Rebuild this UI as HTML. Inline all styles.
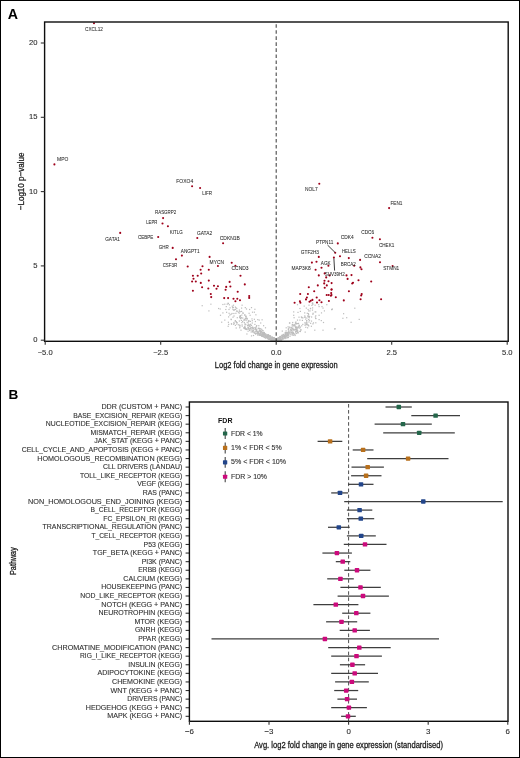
<!DOCTYPE html>
<html><head><meta charset="utf-8"><title>Figure</title>
<style>html,body{margin:0;padding:0;background:#fff;width:520px;height:758px;overflow:hidden}
svg text{font-family:"Liberation Sans", sans-serif}
.ti{stroke:#1a1a1a;stroke-width:.28px}
.pl{stroke:#303030;stroke-width:.1px}
.tk{stroke:#303030;stroke-width:.12px}
.vl{stroke:#1e1e1e;stroke-width:.05px}
.lg{stroke:#333;stroke-width:.12px}</style></head>
<body>
<svg width="520" height="758" viewBox="0 0 520 758" style="display:block;will-change:transform">
<rect x="0" y="0" width="520" height="758" fill="#fff"/>
<g fill="#bdbdbd"><rect x="201.6" y="305.1" width="1.2" height="1.2"/><rect x="210.3" y="303.6" width="1.2" height="1.2"/><rect x="208.3" y="310.3" width="1.2" height="1.2"/><rect x="222.3" y="303.9" width="1.2" height="1.2"/><rect x="224.2" y="303.6" width="1.2" height="1.2"/><rect x="226.6" y="303.6" width="1.2" height="1.2"/><rect x="225.7" y="306.0" width="1.2" height="1.2"/><rect x="218.0" y="307.9" width="1.2" height="1.2"/><rect x="219.6" y="308.4" width="1.2" height="1.2"/><rect x="225.2" y="308.9" width="1.2" height="1.2"/><rect x="232.9" y="304.6" width="1.2" height="1.2"/><rect x="222.3" y="312.3" width="1.2" height="1.2"/><rect x="219.9" y="314.7" width="1.2" height="1.2"/><rect x="228.5" y="312.7" width="1.2" height="1.2"/><rect x="231.4" y="312.9" width="1.2" height="1.2"/><rect x="233.3" y="312.9" width="1.2" height="1.2"/><rect x="235.3" y="312.7" width="1.2" height="1.2"/><rect x="236.2" y="307.9" width="1.2" height="1.2"/><rect x="241.5" y="304.6" width="1.2" height="1.2"/><rect x="241.0" y="307.5" width="1.2" height="1.2"/><rect x="236.7" y="310.6" width="1.2" height="1.2"/><rect x="238.6" y="312.6" width="1.2" height="1.2"/><rect x="241.0" y="310.8" width="1.2" height="1.2"/><rect x="242.5" y="312.7" width="1.2" height="1.2"/><rect x="232.4" y="316.6" width="1.2" height="1.2"/><rect x="236.7" y="317.1" width="1.2" height="1.2"/><rect x="239.6" y="315.6" width="1.2" height="1.2"/><rect x="241.0" y="317.1" width="1.2" height="1.2"/><rect x="224.2" y="319.5" width="1.2" height="1.2"/><rect x="230.7" y="319.0" width="1.2" height="1.2"/><rect x="221.1" y="321.6" width="1.2" height="1.2"/><rect x="234.8" y="320.0" width="1.2" height="1.2"/><rect x="236.7" y="322.2" width="1.2" height="1.2"/><rect x="233.3" y="321.9" width="1.2" height="1.2"/><rect x="238.8" y="320.4" width="1.2" height="1.2"/><rect x="242.0" y="320.9" width="1.2" height="1.2"/><rect x="228.1" y="323.8" width="1.2" height="1.2"/><rect x="227.6" y="325.7" width="1.2" height="1.2"/><rect x="234.8" y="324.8" width="1.2" height="1.2"/><rect x="239.1" y="324.5" width="1.2" height="1.2"/><rect x="241.5" y="324.3" width="1.2" height="1.2"/><rect x="235.6" y="327.4" width="1.2" height="1.2"/><rect x="239.1" y="327.2" width="1.2" height="1.2"/><rect x="240.4" y="329.6" width="1.2" height="1.2"/><rect x="243.4" y="327.2" width="1.2" height="1.2"/><rect x="244.7" y="307.0" width="1.2" height="1.2"/><rect x="245.9" y="308.4" width="1.2" height="1.2"/><rect x="249.0" y="308.9" width="1.2" height="1.2"/><rect x="250.9" y="307.0" width="1.2" height="1.2"/><rect x="254.3" y="308.7" width="1.2" height="1.2"/><rect x="242.3" y="312.3" width="1.2" height="1.2"/><rect x="248.5" y="312.7" width="1.2" height="1.2"/><rect x="251.9" y="311.6" width="1.2" height="1.2"/><rect x="253.8" y="311.6" width="1.2" height="1.2"/><rect x="255.3" y="314.2" width="1.2" height="1.2"/><rect x="249.5" y="314.7" width="1.2" height="1.2"/><rect x="239.9" y="315.6" width="1.2" height="1.2"/><rect x="245.2" y="316.1" width="1.2" height="1.2"/><rect x="251.4" y="318.3" width="1.2" height="1.2"/><rect x="253.8" y="318.7" width="1.2" height="1.2"/><rect x="257.2" y="319.0" width="1.2" height="1.2"/><rect x="258.6" y="319.5" width="1.2" height="1.2"/><rect x="261.5" y="319.2" width="1.2" height="1.2"/><rect x="243.2" y="319.5" width="1.2" height="1.2"/><rect x="246.1" y="319.5" width="1.2" height="1.2"/><rect x="243.7" y="321.9" width="1.2" height="1.2"/><rect x="247.6" y="322.4" width="1.2" height="1.2"/><rect x="254.8" y="320.9" width="1.2" height="1.2"/><rect x="260.1" y="322.4" width="1.2" height="1.2"/><rect x="245.2" y="323.8" width="1.2" height="1.2"/><rect x="248.1" y="324.3" width="1.2" height="1.2"/><rect x="250.9" y="324.8" width="1.2" height="1.2"/><rect x="258.2" y="325.1" width="1.2" height="1.2"/><rect x="263.0" y="325.1" width="1.2" height="1.2"/><rect x="264.9" y="327.2" width="1.2" height="1.2"/><rect x="244.2" y="326.7" width="1.2" height="1.2"/><rect x="247.6" y="327.2" width="1.2" height="1.2"/><rect x="250.9" y="327.2" width="1.2" height="1.2"/><rect x="254.3" y="327.0" width="1.2" height="1.2"/><rect x="257.7" y="327.7" width="1.2" height="1.2"/><rect x="260.1" y="328.1" width="1.2" height="1.2"/><rect x="249.0" y="329.9" width="1.2" height="1.2"/><rect x="246.3" y="333.4" width="1.2" height="1.2"/><rect x="250.9" y="335.3" width="1.2" height="1.2"/><rect x="252.9" y="334.9" width="1.2" height="1.2"/><rect x="281.7" y="330.5" width="1.2" height="1.2"/><rect x="285.6" y="327.2" width="1.2" height="1.2"/><rect x="287.5" y="326.2" width="1.2" height="1.2"/><rect x="288.9" y="322.4" width="1.2" height="1.2"/><rect x="296.9" y="304.1" width="1.2" height="1.2"/><rect x="303.6" y="305.5" width="1.2" height="1.2"/><rect x="308.4" y="304.6" width="1.2" height="1.2"/><rect x="311.8" y="302.7" width="1.2" height="1.2"/><rect x="318.1" y="304.1" width="1.2" height="1.2"/><rect x="318.5" y="306.0" width="1.2" height="1.2"/><rect x="321.4" y="306.0" width="1.2" height="1.2"/><rect x="322.4" y="307.5" width="1.2" height="1.2"/><rect x="326.2" y="304.1" width="1.2" height="1.2"/><rect x="331.3" y="308.9" width="1.2" height="1.2"/><rect x="305.7" y="307.5" width="1.2" height="1.2"/><rect x="307.5" y="308.9" width="1.2" height="1.2"/><rect x="309.4" y="310.3" width="1.2" height="1.2"/><rect x="299.3" y="307.9" width="1.2" height="1.2"/><rect x="299.8" y="310.8" width="1.2" height="1.2"/><rect x="297.4" y="311.8" width="1.2" height="1.2"/><rect x="293.1" y="311.3" width="1.2" height="1.2"/><rect x="304.1" y="312.3" width="1.2" height="1.2"/><rect x="308.0" y="313.7" width="1.2" height="1.2"/><rect x="312.3" y="313.7" width="1.2" height="1.2"/><rect x="315.2" y="311.3" width="1.2" height="1.2"/><rect x="323.8" y="310.3" width="1.2" height="1.2"/><rect x="320.9" y="312.3" width="1.2" height="1.2"/><rect x="293.1" y="314.7" width="1.2" height="1.2"/><rect x="293.5" y="317.1" width="1.2" height="1.2"/><rect x="298.4" y="316.6" width="1.2" height="1.2"/><rect x="301.2" y="317.1" width="1.2" height="1.2"/><rect x="304.6" y="316.6" width="1.2" height="1.2"/><rect x="305.1" y="318.5" width="1.2" height="1.2"/><rect x="308.4" y="316.6" width="1.2" height="1.2"/><rect x="315.2" y="315.2" width="1.2" height="1.2"/><rect x="315.2" y="318.0" width="1.2" height="1.2"/><rect x="318.5" y="314.7" width="1.2" height="1.2"/><rect x="318.5" y="319.0" width="1.2" height="1.2"/><rect x="320.7" y="320.0" width="1.2" height="1.2"/><rect x="322.9" y="321.9" width="1.2" height="1.2"/><rect x="296.9" y="319.5" width="1.2" height="1.2"/><rect x="299.3" y="319.5" width="1.2" height="1.2"/><rect x="306.0" y="320.4" width="1.2" height="1.2"/><rect x="308.4" y="321.4" width="1.2" height="1.2"/><rect x="315.2" y="322.2" width="1.2" height="1.2"/><rect x="312.3" y="323.3" width="1.2" height="1.2"/><rect x="289.2" y="322.4" width="1.2" height="1.2"/><rect x="292.1" y="321.9" width="1.2" height="1.2"/><rect x="295.0" y="322.4" width="1.2" height="1.2"/><rect x="297.9" y="322.8" width="1.2" height="1.2"/><rect x="302.2" y="323.8" width="1.2" height="1.2"/><rect x="305.1" y="324.3" width="1.2" height="1.2"/><rect x="307.5" y="324.3" width="1.2" height="1.2"/><rect x="310.8" y="325.7" width="1.2" height="1.2"/><rect x="294.0" y="325.2" width="1.2" height="1.2"/><rect x="298.8" y="325.2" width="1.2" height="1.2"/><rect x="307.0" y="327.2" width="1.2" height="1.2"/><rect x="314.2" y="329.6" width="1.2" height="1.2"/><rect x="322.4" y="329.6" width="1.2" height="1.2"/><rect x="304.6" y="331.5" width="1.2" height="1.2"/><rect x="334.4" y="328.1" width="1.2" height="1.2"/><rect x="296.9" y="329.6" width="1.2" height="1.2"/><rect x="300.3" y="329.1" width="1.2" height="1.2"/><rect x="294.5" y="334.9" width="1.2" height="1.2"/><rect x="331.1" y="309.0" width="1.2" height="1.2"/><rect x="331.7" y="308.4" width="1.2" height="1.2"/><rect x="354.2" y="307.6" width="1.2" height="1.2"/><rect x="343.0" y="313.1" width="1.2" height="1.2"/><rect x="342.3" y="317.7" width="1.2" height="1.2"/><rect x="346.1" y="317.1" width="1.2" height="1.2"/><rect x="350.5" y="321.7" width="1.2" height="1.2"/><rect x="358.6" y="318.8" width="1.2" height="1.2"/><rect x="334.2" y="328.4" width="1.2" height="1.2"/><rect x="271.5" y="338.7" width="1.2" height="1.2"/><rect x="267.4" y="334.4" width="1.2" height="1.2"/><rect x="260.7" y="331.0" width="1.2" height="1.2"/><rect x="272.2" y="338.5" width="1.2" height="1.2"/><rect x="259.0" y="330.2" width="1.2" height="1.2"/><rect x="271.6" y="336.6" width="1.2" height="1.2"/><rect x="248.9" y="325.5" width="1.2" height="1.2"/><rect x="261.9" y="332.4" width="1.2" height="1.2"/><rect x="248.5" y="328.3" width="1.2" height="1.2"/><rect x="247.7" y="326.7" width="1.2" height="1.2"/><rect x="270.7" y="339.2" width="1.2" height="1.2"/><rect x="274.9" y="338.9" width="1.2" height="1.2"/><rect x="270.7" y="337.0" width="1.2" height="1.2"/><rect x="269.3" y="338.5" width="1.2" height="1.2"/><rect x="266.7" y="336.6" width="1.2" height="1.2"/><rect x="256.4" y="330.7" width="1.2" height="1.2"/><rect x="270.1" y="335.7" width="1.2" height="1.2"/><rect x="273.9" y="338.2" width="1.2" height="1.2"/><rect x="268.4" y="336.0" width="1.2" height="1.2"/><rect x="260.3" y="333.6" width="1.2" height="1.2"/><rect x="262.7" y="335.6" width="1.2" height="1.2"/><rect x="271.7" y="339.0" width="1.2" height="1.2"/><rect x="274.8" y="339.7" width="1.2" height="1.2"/><rect x="254.7" y="332.8" width="1.2" height="1.2"/><rect x="273.9" y="339.9" width="1.2" height="1.2"/><rect x="262.5" y="332.2" width="1.2" height="1.2"/><rect x="252.2" y="327.3" width="1.2" height="1.2"/><rect x="262.4" y="334.0" width="1.2" height="1.2"/><rect x="252.6" y="331.3" width="1.2" height="1.2"/><rect x="269.8" y="337.7" width="1.2" height="1.2"/><rect x="265.8" y="336.5" width="1.2" height="1.2"/><rect x="265.8" y="336.0" width="1.2" height="1.2"/><rect x="260.1" y="334.8" width="1.2" height="1.2"/><rect x="267.1" y="338.1" width="1.2" height="1.2"/><rect x="252.3" y="326.8" width="1.2" height="1.2"/><rect x="271.8" y="339.1" width="1.2" height="1.2"/><rect x="245.2" y="328.6" width="1.2" height="1.2"/><rect x="272.2" y="339.1" width="1.2" height="1.2"/><rect x="260.2" y="330.6" width="1.2" height="1.2"/><rect x="266.2" y="334.0" width="1.2" height="1.2"/><rect x="273.3" y="337.3" width="1.2" height="1.2"/><rect x="274.6" y="338.7" width="1.2" height="1.2"/><rect x="267.2" y="335.8" width="1.2" height="1.2"/><rect x="271.1" y="337.8" width="1.2" height="1.2"/><rect x="270.9" y="338.1" width="1.2" height="1.2"/><rect x="253.6" y="332.3" width="1.2" height="1.2"/><rect x="255.8" y="329.8" width="1.2" height="1.2"/><rect x="262.6" y="336.1" width="1.2" height="1.2"/><rect x="267.9" y="338.5" width="1.2" height="1.2"/><rect x="269.8" y="336.3" width="1.2" height="1.2"/><rect x="267.5" y="335.2" width="1.2" height="1.2"/><rect x="254.4" y="329.0" width="1.2" height="1.2"/><rect x="273.6" y="337.3" width="1.2" height="1.2"/><rect x="262.2" y="334.3" width="1.2" height="1.2"/><rect x="268.1" y="338.6" width="1.2" height="1.2"/><rect x="268.6" y="337.3" width="1.2" height="1.2"/><rect x="257.7" y="332.9" width="1.2" height="1.2"/><rect x="243.3" y="327.5" width="1.2" height="1.2"/><rect x="264.2" y="336.6" width="1.2" height="1.2"/><rect x="270.9" y="337.5" width="1.2" height="1.2"/><rect x="260.3" y="331.1" width="1.2" height="1.2"/><rect x="271.8" y="336.6" width="1.2" height="1.2"/><rect x="271.3" y="336.9" width="1.2" height="1.2"/><rect x="268.0" y="334.6" width="1.2" height="1.2"/><rect x="263.2" y="332.0" width="1.2" height="1.2"/><rect x="271.3" y="337.5" width="1.2" height="1.2"/><rect x="269.6" y="335.3" width="1.2" height="1.2"/><rect x="260.1" y="331.2" width="1.2" height="1.2"/><rect x="259.9" y="331.6" width="1.2" height="1.2"/><rect x="266.9" y="334.4" width="1.2" height="1.2"/><rect x="263.1" y="336.1" width="1.2" height="1.2"/><rect x="257.7" y="331.9" width="1.2" height="1.2"/><rect x="274.8" y="338.2" width="1.2" height="1.2"/><rect x="263.9" y="333.6" width="1.2" height="1.2"/><rect x="266.8" y="337.5" width="1.2" height="1.2"/><rect x="273.8" y="339.9" width="1.2" height="1.2"/><rect x="272.7" y="338.8" width="1.2" height="1.2"/><rect x="263.5" y="332.3" width="1.2" height="1.2"/><rect x="259.7" y="333.0" width="1.2" height="1.2"/><rect x="244.0" y="327.2" width="1.2" height="1.2"/><rect x="271.3" y="337.1" width="1.2" height="1.2"/><rect x="269.1" y="338.2" width="1.2" height="1.2"/><rect x="268.4" y="336.9" width="1.2" height="1.2"/><rect x="273.0" y="337.8" width="1.2" height="1.2"/><rect x="261.5" y="335.3" width="1.2" height="1.2"/><rect x="244.4" y="328.2" width="1.2" height="1.2"/><rect x="272.6" y="339.9" width="1.2" height="1.2"/><rect x="274.9" y="339.7" width="1.2" height="1.2"/><rect x="264.1" y="334.2" width="1.2" height="1.2"/><rect x="271.9" y="337.5" width="1.2" height="1.2"/><rect x="274.9" y="338.9" width="1.2" height="1.2"/><rect x="261.4" y="333.4" width="1.2" height="1.2"/><rect x="257.3" y="334.3" width="1.2" height="1.2"/><rect x="268.2" y="335.5" width="1.2" height="1.2"/><rect x="267.1" y="334.8" width="1.2" height="1.2"/><rect x="269.3" y="338.8" width="1.2" height="1.2"/><rect x="254.1" y="332.4" width="1.2" height="1.2"/><rect x="252.5" y="331.5" width="1.2" height="1.2"/><rect x="272.6" y="337.1" width="1.2" height="1.2"/><rect x="256.9" y="333.2" width="1.2" height="1.2"/><rect x="245.9" y="328.4" width="1.2" height="1.2"/><rect x="265.7" y="336.9" width="1.2" height="1.2"/><rect x="274.2" y="338.8" width="1.2" height="1.2"/><rect x="262.2" y="333.4" width="1.2" height="1.2"/><rect x="244.0" y="327.4" width="1.2" height="1.2"/><rect x="253.1" y="327.9" width="1.2" height="1.2"/><rect x="269.2" y="338.8" width="1.2" height="1.2"/><rect x="269.0" y="338.3" width="1.2" height="1.2"/><rect x="257.4" y="334.5" width="1.2" height="1.2"/><rect x="251.8" y="330.3" width="1.2" height="1.2"/><rect x="263.7" y="332.9" width="1.2" height="1.2"/><rect x="259.3" y="330.1" width="1.2" height="1.2"/><rect x="252.8" y="329.9" width="1.2" height="1.2"/><rect x="271.4" y="339.8" width="1.2" height="1.2"/><rect x="245.9" y="328.9" width="1.2" height="1.2"/><rect x="262.5" y="332.7" width="1.2" height="1.2"/><rect x="275.4" y="339.0" width="1.2" height="1.2"/><rect x="262.3" y="334.4" width="1.2" height="1.2"/><rect x="274.6" y="338.3" width="1.2" height="1.2"/><rect x="259.0" y="334.7" width="1.2" height="1.2"/><rect x="264.9" y="335.6" width="1.2" height="1.2"/><rect x="261.5" y="335.7" width="1.2" height="1.2"/><rect x="244.2" y="325.9" width="1.2" height="1.2"/><rect x="258.5" y="332.5" width="1.2" height="1.2"/><rect x="272.5" y="338.4" width="1.2" height="1.2"/><rect x="275.1" y="338.7" width="1.2" height="1.2"/><rect x="246.9" y="324.9" width="1.2" height="1.2"/><rect x="274.9" y="339.6" width="1.2" height="1.2"/><rect x="272.4" y="337.9" width="1.2" height="1.2"/><rect x="255.4" y="331.0" width="1.2" height="1.2"/><rect x="249.3" y="325.6" width="1.2" height="1.2"/><rect x="266.0" y="336.0" width="1.2" height="1.2"/><rect x="275.5" y="339.9" width="1.2" height="1.2"/><rect x="262.7" y="334.2" width="1.2" height="1.2"/><rect x="250.6" y="331.4" width="1.2" height="1.2"/><rect x="265.4" y="335.1" width="1.2" height="1.2"/><rect x="261.2" y="333.6" width="1.2" height="1.2"/><rect x="263.3" y="335.4" width="1.2" height="1.2"/><rect x="256.7" y="331.4" width="1.2" height="1.2"/><rect x="269.8" y="339.2" width="1.2" height="1.2"/><rect x="265.3" y="337.4" width="1.2" height="1.2"/><rect x="244.5" y="324.3" width="1.2" height="1.2"/><rect x="261.6" y="335.4" width="1.2" height="1.2"/><rect x="270.3" y="337.4" width="1.2" height="1.2"/><rect x="269.4" y="335.4" width="1.2" height="1.2"/><rect x="275.2" y="339.9" width="1.2" height="1.2"/><rect x="269.4" y="338.4" width="1.2" height="1.2"/><rect x="268.2" y="337.6" width="1.2" height="1.2"/><rect x="270.0" y="338.1" width="1.2" height="1.2"/><rect x="255.0" y="333.5" width="1.2" height="1.2"/><rect x="249.7" y="326.5" width="1.2" height="1.2"/><rect x="260.2" y="333.0" width="1.2" height="1.2"/><rect x="270.9" y="339.8" width="1.2" height="1.2"/><rect x="270.9" y="337.6" width="1.2" height="1.2"/><rect x="267.4" y="336.4" width="1.2" height="1.2"/><rect x="270.0" y="336.7" width="1.2" height="1.2"/><rect x="266.7" y="337.0" width="1.2" height="1.2"/><rect x="255.4" y="330.6" width="1.2" height="1.2"/><rect x="273.1" y="337.1" width="1.2" height="1.2"/><rect x="264.6" y="335.1" width="1.2" height="1.2"/><rect x="256.1" y="328.7" width="1.2" height="1.2"/><rect x="247.5" y="330.6" width="1.2" height="1.2"/><rect x="273.0" y="337.3" width="1.2" height="1.2"/><rect x="275.2" y="339.9" width="1.2" height="1.2"/><rect x="271.1" y="337.1" width="1.2" height="1.2"/><rect x="264.1" y="336.8" width="1.2" height="1.2"/><rect x="263.4" y="336.1" width="1.2" height="1.2"/><rect x="275.1" y="339.9" width="1.2" height="1.2"/><rect x="266.5" y="336.2" width="1.2" height="1.2"/><rect x="273.5" y="337.4" width="1.2" height="1.2"/><rect x="269.0" y="337.8" width="1.2" height="1.2"/><rect x="270.1" y="339.3" width="1.2" height="1.2"/><rect x="272.8" y="339.2" width="1.2" height="1.2"/><rect x="273.5" y="339.9" width="1.2" height="1.2"/><rect x="269.3" y="335.3" width="1.2" height="1.2"/><rect x="264.1" y="334.1" width="1.2" height="1.2"/><rect x="262.2" y="334.3" width="1.2" height="1.2"/><rect x="264.3" y="333.1" width="1.2" height="1.2"/><rect x="270.0" y="337.6" width="1.2" height="1.2"/><rect x="275.0" y="338.6" width="1.2" height="1.2"/><rect x="267.9" y="334.6" width="1.2" height="1.2"/><rect x="271.5" y="337.4" width="1.2" height="1.2"/><rect x="262.4" y="335.4" width="1.2" height="1.2"/><rect x="270.9" y="336.6" width="1.2" height="1.2"/><rect x="257.3" y="330.9" width="1.2" height="1.2"/><rect x="263.5" y="332.2" width="1.2" height="1.2"/><rect x="274.2" y="339.9" width="1.2" height="1.2"/><rect x="265.8" y="335.5" width="1.2" height="1.2"/><rect x="272.3" y="339.9" width="1.2" height="1.2"/><rect x="252.4" y="329.1" width="1.2" height="1.2"/><rect x="257.3" y="331.7" width="1.2" height="1.2"/><rect x="267.5" y="336.4" width="1.2" height="1.2"/><rect x="261.8" y="334.7" width="1.2" height="1.2"/><rect x="261.0" y="335.2" width="1.2" height="1.2"/><rect x="274.0" y="339.9" width="1.2" height="1.2"/><rect x="264.9" y="334.5" width="1.2" height="1.2"/><rect x="263.3" y="332.3" width="1.2" height="1.2"/><rect x="271.4" y="339.1" width="1.2" height="1.2"/><rect x="271.1" y="337.0" width="1.2" height="1.2"/><rect x="272.1" y="339.7" width="1.2" height="1.2"/><rect x="269.9" y="338.9" width="1.2" height="1.2"/><rect x="269.4" y="336.1" width="1.2" height="1.2"/><rect x="264.2" y="333.9" width="1.2" height="1.2"/><rect x="266.5" y="335.7" width="1.2" height="1.2"/><rect x="273.2" y="338.1" width="1.2" height="1.2"/><rect x="265.4" y="335.6" width="1.2" height="1.2"/><rect x="274.2" y="338.7" width="1.2" height="1.2"/><rect x="275.1" y="339.4" width="1.2" height="1.2"/><rect x="275.0" y="339.7" width="1.2" height="1.2"/><rect x="264.9" y="335.2" width="1.2" height="1.2"/><rect x="275.4" y="338.2" width="1.2" height="1.2"/><rect x="275.0" y="339.4" width="1.2" height="1.2"/><rect x="268.7" y="335.0" width="1.2" height="1.2"/><rect x="262.1" y="332.6" width="1.2" height="1.2"/><rect x="273.7" y="339.4" width="1.2" height="1.2"/><rect x="249.4" y="329.2" width="1.2" height="1.2"/><rect x="270.7" y="338.7" width="1.2" height="1.2"/><rect x="264.1" y="334.0" width="1.2" height="1.2"/><rect x="264.7" y="337.4" width="1.2" height="1.2"/><rect x="260.4" y="333.9" width="1.2" height="1.2"/><rect x="254.9" y="328.0" width="1.2" height="1.2"/><rect x="258.4" y="332.9" width="1.2" height="1.2"/><rect x="246.6" y="328.6" width="1.2" height="1.2"/><rect x="272.3" y="338.6" width="1.2" height="1.2"/><rect x="267.5" y="336.4" width="1.2" height="1.2"/><rect x="260.9" y="335.1" width="1.2" height="1.2"/><rect x="250.7" y="329.3" width="1.2" height="1.2"/><rect x="256.6" y="332.6" width="1.2" height="1.2"/><rect x="260.5" y="331.8" width="1.2" height="1.2"/><rect x="267.2" y="335.6" width="1.2" height="1.2"/><rect x="273.9" y="337.8" width="1.2" height="1.2"/><rect x="265.1" y="335.9" width="1.2" height="1.2"/><rect x="258.0" y="332.8" width="1.2" height="1.2"/><rect x="267.8" y="334.3" width="1.2" height="1.2"/><rect x="258.8" y="334.0" width="1.2" height="1.2"/><rect x="275.4" y="339.9" width="1.2" height="1.2"/><rect x="256.7" y="332.4" width="1.2" height="1.2"/><rect x="251.7" y="327.7" width="1.2" height="1.2"/><rect x="265.1" y="333.3" width="1.2" height="1.2"/><rect x="273.1" y="337.8" width="1.2" height="1.2"/><rect x="296.5" y="331.2" width="1.2" height="1.2"/><rect x="290.6" y="331.4" width="1.2" height="1.2"/><rect x="277.9" y="338.7" width="1.2" height="1.2"/><rect x="284.6" y="336.0" width="1.2" height="1.2"/><rect x="295.9" y="330.7" width="1.2" height="1.2"/><rect x="282.1" y="335.4" width="1.2" height="1.2"/><rect x="279.0" y="339.2" width="1.2" height="1.2"/><rect x="281.2" y="334.8" width="1.2" height="1.2"/><rect x="291.5" y="328.5" width="1.2" height="1.2"/><rect x="277.9" y="339.5" width="1.2" height="1.2"/><rect x="294.9" y="331.4" width="1.2" height="1.2"/><rect x="279.6" y="337.8" width="1.2" height="1.2"/><rect x="290.8" y="331.9" width="1.2" height="1.2"/><rect x="295.8" y="326.9" width="1.2" height="1.2"/><rect x="294.3" y="334.1" width="1.2" height="1.2"/><rect x="277.8" y="338.7" width="1.2" height="1.2"/><rect x="276.6" y="339.9" width="1.2" height="1.2"/><rect x="289.5" y="331.2" width="1.2" height="1.2"/><rect x="278.4" y="337.4" width="1.2" height="1.2"/><rect x="284.0" y="336.1" width="1.2" height="1.2"/><rect x="278.6" y="337.0" width="1.2" height="1.2"/><rect x="280.4" y="335.8" width="1.2" height="1.2"/><rect x="282.2" y="338.5" width="1.2" height="1.2"/><rect x="289.6" y="334.1" width="1.2" height="1.2"/><rect x="278.8" y="338.3" width="1.2" height="1.2"/><rect x="276.7" y="339.4" width="1.2" height="1.2"/><rect x="275.8" y="339.8" width="1.2" height="1.2"/><rect x="277.9" y="338.2" width="1.2" height="1.2"/><rect x="282.4" y="335.6" width="1.2" height="1.2"/><rect x="276.0" y="339.9" width="1.2" height="1.2"/><rect x="276.2" y="339.9" width="1.2" height="1.2"/><rect x="297.2" y="330.6" width="1.2" height="1.2"/><rect x="295.9" y="332.8" width="1.2" height="1.2"/><rect x="278.7" y="338.0" width="1.2" height="1.2"/><rect x="287.8" y="336.9" width="1.2" height="1.2"/><rect x="286.0" y="334.2" width="1.2" height="1.2"/><rect x="282.1" y="335.5" width="1.2" height="1.2"/><rect x="281.3" y="338.6" width="1.2" height="1.2"/><rect x="277.4" y="338.3" width="1.2" height="1.2"/><rect x="284.7" y="334.0" width="1.2" height="1.2"/><rect x="279.5" y="338.0" width="1.2" height="1.2"/><rect x="280.2" y="339.6" width="1.2" height="1.2"/><rect x="287.3" y="336.3" width="1.2" height="1.2"/><rect x="282.6" y="338.4" width="1.2" height="1.2"/><rect x="292.6" y="334.5" width="1.2" height="1.2"/><rect x="295.3" y="326.0" width="1.2" height="1.2"/><rect x="281.9" y="337.8" width="1.2" height="1.2"/><rect x="296.3" y="330.5" width="1.2" height="1.2"/><rect x="282.2" y="335.5" width="1.2" height="1.2"/><rect x="284.6" y="333.3" width="1.2" height="1.2"/><rect x="287.3" y="332.6" width="1.2" height="1.2"/><rect x="277.7" y="339.8" width="1.2" height="1.2"/><rect x="285.6" y="335.7" width="1.2" height="1.2"/><rect x="277.1" y="338.5" width="1.2" height="1.2"/><rect x="287.8" y="331.5" width="1.2" height="1.2"/><rect x="280.2" y="336.1" width="1.2" height="1.2"/><rect x="283.0" y="336.1" width="1.2" height="1.2"/><rect x="280.9" y="339.5" width="1.2" height="1.2"/><rect x="282.4" y="334.9" width="1.2" height="1.2"/><rect x="277.8" y="337.3" width="1.2" height="1.2"/><rect x="278.7" y="337.3" width="1.2" height="1.2"/><rect x="280.4" y="336.5" width="1.2" height="1.2"/><rect x="300.2" y="329.6" width="1.2" height="1.2"/><rect x="287.1" y="333.5" width="1.2" height="1.2"/><rect x="289.2" y="332.1" width="1.2" height="1.2"/><rect x="283.8" y="334.9" width="1.2" height="1.2"/><rect x="285.3" y="337.6" width="1.2" height="1.2"/><rect x="279.6" y="336.3" width="1.2" height="1.2"/><rect x="293.9" y="333.4" width="1.2" height="1.2"/><rect x="276.0" y="338.9" width="1.2" height="1.2"/><rect x="276.9" y="339.0" width="1.2" height="1.2"/><rect x="285.3" y="334.6" width="1.2" height="1.2"/><rect x="299.8" y="330.9" width="1.2" height="1.2"/><rect x="282.8" y="333.8" width="1.2" height="1.2"/><rect x="295.6" y="332.9" width="1.2" height="1.2"/><rect x="279.7" y="337.7" width="1.2" height="1.2"/><rect x="275.8" y="339.5" width="1.2" height="1.2"/><rect x="275.7" y="339.9" width="1.2" height="1.2"/><rect x="287.3" y="336.9" width="1.2" height="1.2"/><rect x="298.3" y="325.9" width="1.2" height="1.2"/><rect x="281.4" y="337.1" width="1.2" height="1.2"/><rect x="280.4" y="338.3" width="1.2" height="1.2"/><rect x="295.0" y="331.1" width="1.2" height="1.2"/><rect x="283.1" y="337.5" width="1.2" height="1.2"/><rect x="291.5" y="328.4" width="1.2" height="1.2"/><rect x="280.0" y="339.0" width="1.2" height="1.2"/><rect x="278.8" y="338.9" width="1.2" height="1.2"/><rect x="277.9" y="337.9" width="1.2" height="1.2"/><rect x="282.0" y="337.3" width="1.2" height="1.2"/><rect x="277.6" y="337.4" width="1.2" height="1.2"/><rect x="281.6" y="337.0" width="1.2" height="1.2"/><rect x="286.8" y="332.5" width="1.2" height="1.2"/><rect x="282.0" y="337.2" width="1.2" height="1.2"/><rect x="286.6" y="334.0" width="1.2" height="1.2"/><rect x="276.3" y="339.9" width="1.2" height="1.2"/><rect x="292.2" y="331.2" width="1.2" height="1.2"/><rect x="296.9" y="326.6" width="1.2" height="1.2"/><rect x="276.2" y="339.9" width="1.2" height="1.2"/><rect x="276.6" y="339.5" width="1.2" height="1.2"/><rect x="278.2" y="339.3" width="1.2" height="1.2"/><rect x="284.4" y="336.3" width="1.2" height="1.2"/><rect x="280.4" y="339.4" width="1.2" height="1.2"/><rect x="276.1" y="339.2" width="1.2" height="1.2"/><rect x="279.0" y="337.9" width="1.2" height="1.2"/><rect x="279.2" y="339.4" width="1.2" height="1.2"/><rect x="283.5" y="337.2" width="1.2" height="1.2"/><rect x="284.4" y="338.0" width="1.2" height="1.2"/><rect x="275.9" y="339.2" width="1.2" height="1.2"/><rect x="279.6" y="336.7" width="1.2" height="1.2"/><rect x="284.1" y="337.0" width="1.2" height="1.2"/><rect x="284.5" y="335.3" width="1.2" height="1.2"/><rect x="279.1" y="337.8" width="1.2" height="1.2"/><rect x="284.1" y="336.5" width="1.2" height="1.2"/><rect x="282.5" y="335.9" width="1.2" height="1.2"/><rect x="277.9" y="337.7" width="1.2" height="1.2"/><rect x="282.7" y="334.0" width="1.2" height="1.2"/><rect x="276.8" y="337.9" width="1.2" height="1.2"/><rect x="297.4" y="332.1" width="1.2" height="1.2"/><rect x="292.9" y="332.8" width="1.2" height="1.2"/><rect x="276.1" y="339.2" width="1.2" height="1.2"/><rect x="287.6" y="335.3" width="1.2" height="1.2"/><rect x="294.4" y="329.2" width="1.2" height="1.2"/><rect x="279.4" y="337.5" width="1.2" height="1.2"/><rect x="279.5" y="335.9" width="1.2" height="1.2"/><rect x="282.5" y="335.3" width="1.2" height="1.2"/><rect x="294.9" y="326.9" width="1.2" height="1.2"/><rect x="284.2" y="334.7" width="1.2" height="1.2"/><rect x="277.6" y="339.9" width="1.2" height="1.2"/><rect x="281.6" y="334.7" width="1.2" height="1.2"/><rect x="288.0" y="333.4" width="1.2" height="1.2"/><rect x="295.9" y="326.8" width="1.2" height="1.2"/><rect x="296.5" y="327.9" width="1.2" height="1.2"/><rect x="278.2" y="338.3" width="1.2" height="1.2"/><rect x="277.5" y="339.9" width="1.2" height="1.2"/><rect x="276.0" y="338.3" width="1.2" height="1.2"/><rect x="279.3" y="336.2" width="1.2" height="1.2"/><rect x="284.4" y="336.8" width="1.2" height="1.2"/><rect x="280.4" y="339.3" width="1.2" height="1.2"/><rect x="281.1" y="339.3" width="1.2" height="1.2"/><rect x="284.4" y="336.1" width="1.2" height="1.2"/><rect x="277.2" y="338.5" width="1.2" height="1.2"/><rect x="296.2" y="327.4" width="1.2" height="1.2"/><rect x="297.4" y="332.3" width="1.2" height="1.2"/><rect x="276.1" y="339.9" width="1.2" height="1.2"/><rect x="278.3" y="337.6" width="1.2" height="1.2"/><rect x="276.6" y="339.4" width="1.2" height="1.2"/><rect x="284.3" y="334.9" width="1.2" height="1.2"/><rect x="275.7" y="339.9" width="1.2" height="1.2"/><rect x="289.4" y="335.7" width="1.2" height="1.2"/><rect x="285.2" y="336.4" width="1.2" height="1.2"/><rect x="297.0" y="331.7" width="1.2" height="1.2"/><rect x="278.1" y="338.0" width="1.2" height="1.2"/><rect x="293.2" y="329.4" width="1.2" height="1.2"/><rect x="290.3" y="329.4" width="1.2" height="1.2"/><rect x="292.9" y="328.7" width="1.2" height="1.2"/><rect x="275.8" y="338.5" width="1.2" height="1.2"/><rect x="285.4" y="332.2" width="1.2" height="1.2"/><rect x="286.5" y="337.2" width="1.2" height="1.2"/><rect x="279.3" y="339.7" width="1.2" height="1.2"/><rect x="285.8" y="332.3" width="1.2" height="1.2"/><rect x="276.4" y="338.2" width="1.2" height="1.2"/><rect x="296.0" y="328.9" width="1.2" height="1.2"/><rect x="275.8" y="339.0" width="1.2" height="1.2"/><rect x="291.3" y="333.1" width="1.2" height="1.2"/><rect x="284.6" y="336.7" width="1.2" height="1.2"/><rect x="286.6" y="332.0" width="1.2" height="1.2"/><rect x="291.4" y="334.3" width="1.2" height="1.2"/><rect x="280.2" y="337.1" width="1.2" height="1.2"/><rect x="291.8" y="333.3" width="1.2" height="1.2"/><rect x="278.7" y="337.4" width="1.2" height="1.2"/><rect x="284.9" y="333.2" width="1.2" height="1.2"/><rect x="288.4" y="332.2" width="1.2" height="1.2"/><rect x="287.0" y="333.5" width="1.2" height="1.2"/><rect x="291.1" y="330.0" width="1.2" height="1.2"/><rect x="276.3" y="339.9" width="1.2" height="1.2"/><rect x="298.4" y="324.5" width="1.2" height="1.2"/><rect x="299.3" y="330.8" width="1.2" height="1.2"/><rect x="279.4" y="339.8" width="1.2" height="1.2"/><rect x="286.1" y="332.3" width="1.2" height="1.2"/><rect x="278.3" y="337.4" width="1.2" height="1.2"/><rect x="292.6" y="334.5" width="1.2" height="1.2"/><rect x="278.5" y="338.0" width="1.2" height="1.2"/><rect x="285.1" y="333.7" width="1.2" height="1.2"/><rect x="286.2" y="336.2" width="1.2" height="1.2"/><rect x="281.4" y="337.4" width="1.2" height="1.2"/><rect x="277.7" y="339.4" width="1.2" height="1.2"/><rect x="278.1" y="337.3" width="1.2" height="1.2"/><rect x="287.8" y="331.8" width="1.2" height="1.2"/><rect x="276.1" y="339.9" width="1.2" height="1.2"/><rect x="293.2" y="328.6" width="1.2" height="1.2"/><rect x="263.2" y="331.7" width="1.2" height="1.2"/><rect x="237.8" y="311.6" width="1.2" height="1.2"/><rect x="251.7" y="322.4" width="1.2" height="1.2"/><rect x="233.4" y="315.4" width="1.2" height="1.2"/><rect x="261.2" y="328.8" width="1.2" height="1.2"/><rect x="248.6" y="324.4" width="1.2" height="1.2"/><rect x="239.3" y="311.1" width="1.2" height="1.2"/><rect x="257.4" y="330.9" width="1.2" height="1.2"/><rect x="248.0" y="320.6" width="1.2" height="1.2"/><rect x="251.9" y="330.9" width="1.2" height="1.2"/><rect x="251.7" y="326.5" width="1.2" height="1.2"/><rect x="250.0" y="323.7" width="1.2" height="1.2"/><rect x="230.8" y="323.3" width="1.2" height="1.2"/><rect x="249.8" y="320.8" width="1.2" height="1.2"/><rect x="235.9" y="310.5" width="1.2" height="1.2"/><rect x="263.4" y="335.2" width="1.2" height="1.2"/><rect x="247.5" y="327.3" width="1.2" height="1.2"/><rect x="248.2" y="328.5" width="1.2" height="1.2"/><rect x="246.1" y="317.6" width="1.2" height="1.2"/><rect x="263.0" y="333.0" width="1.2" height="1.2"/><rect x="239.3" y="325.0" width="1.2" height="1.2"/><rect x="260.2" y="331.8" width="1.2" height="1.2"/><rect x="249.5" y="324.4" width="1.2" height="1.2"/><rect x="258.1" y="327.8" width="1.2" height="1.2"/><rect x="243.8" y="327.2" width="1.2" height="1.2"/><rect x="259.5" y="330.4" width="1.2" height="1.2"/><rect x="233.0" y="323.6" width="1.2" height="1.2"/><rect x="256.1" y="325.0" width="1.2" height="1.2"/><rect x="227.8" y="321.7" width="1.2" height="1.2"/><rect x="245.3" y="315.4" width="1.2" height="1.2"/><rect x="228.4" y="308.9" width="1.2" height="1.2"/><rect x="229.2" y="314.5" width="1.2" height="1.2"/><rect x="232.3" y="306.8" width="1.2" height="1.2"/><rect x="233.7" y="309.2" width="1.2" height="1.2"/><rect x="248.2" y="328.0" width="1.2" height="1.2"/><rect x="232.1" y="307.2" width="1.2" height="1.2"/><rect x="255.3" y="327.0" width="1.2" height="1.2"/><rect x="243.9" y="319.2" width="1.2" height="1.2"/><rect x="258.9" y="328.2" width="1.2" height="1.2"/><rect x="236.1" y="323.5" width="1.2" height="1.2"/><rect x="262.0" y="332.5" width="1.2" height="1.2"/><rect x="234.8" y="306.5" width="1.2" height="1.2"/><rect x="231.7" y="305.6" width="1.2" height="1.2"/><rect x="240.8" y="319.8" width="1.2" height="1.2"/><rect x="239.8" y="315.1" width="1.2" height="1.2"/><rect x="247.6" y="324.3" width="1.2" height="1.2"/><rect x="247.4" y="325.2" width="1.2" height="1.2"/><rect x="246.6" y="321.7" width="1.2" height="1.2"/><rect x="262.7" y="333.2" width="1.2" height="1.2"/><rect x="245.0" y="317.8" width="1.2" height="1.2"/><rect x="234.6" y="320.6" width="1.2" height="1.2"/><rect x="246.2" y="317.9" width="1.2" height="1.2"/><rect x="245.6" y="316.4" width="1.2" height="1.2"/><rect x="258.7" y="329.5" width="1.2" height="1.2"/><rect x="260.1" y="330.5" width="1.2" height="1.2"/><rect x="244.2" y="314.3" width="1.2" height="1.2"/><rect x="239.4" y="311.0" width="1.2" height="1.2"/><rect x="235.7" y="321.1" width="1.2" height="1.2"/><rect x="244.2" y="314.5" width="1.2" height="1.2"/><rect x="244.5" y="319.5" width="1.2" height="1.2"/><rect x="227.5" y="302.6" width="1.2" height="1.2"/><rect x="231.0" y="323.4" width="1.2" height="1.2"/><rect x="235.8" y="321.8" width="1.2" height="1.2"/><rect x="256.2" y="332.9" width="1.2" height="1.2"/><rect x="244.9" y="328.1" width="1.2" height="1.2"/><rect x="228.8" y="304.2" width="1.2" height="1.2"/><rect x="233.6" y="323.1" width="1.2" height="1.2"/><rect x="261.1" y="330.5" width="1.2" height="1.2"/><rect x="234.9" y="308.8" width="1.2" height="1.2"/><rect x="229.5" y="307.2" width="1.2" height="1.2"/><rect x="232.6" y="306.8" width="1.2" height="1.2"/><rect x="244.5" y="327.4" width="1.2" height="1.2"/><rect x="255.7" y="325.9" width="1.2" height="1.2"/><rect x="244.4" y="318.5" width="1.2" height="1.2"/><rect x="262.2" y="330.2" width="1.2" height="1.2"/><rect x="257.5" y="333.0" width="1.2" height="1.2"/><rect x="237.8" y="324.2" width="1.2" height="1.2"/><rect x="257.2" y="331.5" width="1.2" height="1.2"/><rect x="259.2" y="330.6" width="1.2" height="1.2"/><rect x="239.4" y="315.8" width="1.2" height="1.2"/><rect x="230.4" y="313.8" width="1.2" height="1.2"/><rect x="241.6" y="325.6" width="1.2" height="1.2"/><rect x="259.6" y="334.3" width="1.2" height="1.2"/><rect x="239.7" y="316.5" width="1.2" height="1.2"/><rect x="233.3" y="309.7" width="1.2" height="1.2"/><rect x="226.0" y="311.7" width="1.2" height="1.2"/><rect x="249.9" y="327.8" width="1.2" height="1.2"/><rect x="246.8" y="318.3" width="1.2" height="1.2"/><rect x="235.3" y="307.1" width="1.2" height="1.2"/><rect x="232.4" y="308.9" width="1.2" height="1.2"/><rect x="239.3" y="326.3" width="1.2" height="1.2"/><rect x="241.3" y="322.0" width="1.2" height="1.2"/><rect x="251.7" y="320.1" width="1.2" height="1.2"/><rect x="262.3" y="330.0" width="1.2" height="1.2"/><rect x="240.2" y="317.5" width="1.2" height="1.2"/><rect x="244.1" y="326.9" width="1.2" height="1.2"/><rect x="258.6" y="327.8" width="1.2" height="1.2"/><rect x="238.8" y="309.5" width="1.2" height="1.2"/><rect x="263.5" y="332.1" width="1.2" height="1.2"/><rect x="259.6" y="329.5" width="1.2" height="1.2"/><rect x="255.1" y="328.6" width="1.2" height="1.2"/><rect x="241.2" y="314.5" width="1.2" height="1.2"/><rect x="239.9" y="318.0" width="1.2" height="1.2"/><rect x="258.5" y="333.4" width="1.2" height="1.2"/><rect x="254.3" y="323.8" width="1.2" height="1.2"/><rect x="260.0" y="331.8" width="1.2" height="1.2"/><rect x="230.5" y="318.6" width="1.2" height="1.2"/><rect x="248.3" y="320.6" width="1.2" height="1.2"/><rect x="263.2" y="333.6" width="1.2" height="1.2"/><rect x="242.2" y="317.5" width="1.2" height="1.2"/><rect x="239.1" y="317.0" width="1.2" height="1.2"/><rect x="228.0" y="316.3" width="1.2" height="1.2"/><rect x="254.2" y="331.3" width="1.2" height="1.2"/><rect x="261.9" y="332.2" width="1.2" height="1.2"/><rect x="248.2" y="320.2" width="1.2" height="1.2"/><rect x="261.4" y="333.5" width="1.2" height="1.2"/><rect x="263.1" y="333.0" width="1.2" height="1.2"/><rect x="227.8" y="303.0" width="1.2" height="1.2"/><rect x="256.0" y="329.4" width="1.2" height="1.2"/><rect x="244.3" y="323.3" width="1.2" height="1.2"/><rect x="309.8" y="308.1" width="1.2" height="1.2"/><rect x="294.2" y="324.2" width="1.2" height="1.2"/><rect x="286.1" y="335.0" width="1.2" height="1.2"/><rect x="308.9" y="319.7" width="1.2" height="1.2"/><rect x="284.8" y="335.4" width="1.2" height="1.2"/><rect x="307.7" y="315.7" width="1.2" height="1.2"/><rect x="307.6" y="315.5" width="1.2" height="1.2"/><rect x="291.6" y="324.6" width="1.2" height="1.2"/><rect x="291.8" y="323.8" width="1.2" height="1.2"/><rect x="295.0" y="328.8" width="1.2" height="1.2"/><rect x="306.1" y="323.8" width="1.2" height="1.2"/><rect x="306.7" y="312.7" width="1.2" height="1.2"/><rect x="301.8" y="319.8" width="1.2" height="1.2"/><rect x="309.0" y="315.8" width="1.2" height="1.2"/><rect x="292.8" y="328.9" width="1.2" height="1.2"/><rect x="314.5" y="304.6" width="1.2" height="1.2"/><rect x="311.9" y="302.6" width="1.2" height="1.2"/><rect x="292.7" y="324.9" width="1.2" height="1.2"/><rect x="307.7" y="324.9" width="1.2" height="1.2"/><rect x="307.7" y="313.0" width="1.2" height="1.2"/><rect x="311.9" y="309.5" width="1.2" height="1.2"/><rect x="292.0" y="332.1" width="1.2" height="1.2"/><rect x="304.2" y="322.3" width="1.2" height="1.2"/><rect x="305.2" y="326.7" width="1.2" height="1.2"/><rect x="299.2" y="327.5" width="1.2" height="1.2"/><rect x="306.2" y="324.0" width="1.2" height="1.2"/><rect x="298.2" y="326.5" width="1.2" height="1.2"/><rect x="302.3" y="317.3" width="1.2" height="1.2"/><rect x="291.2" y="329.9" width="1.2" height="1.2"/><rect x="287.0" y="334.7" width="1.2" height="1.2"/><rect x="289.1" y="326.5" width="1.2" height="1.2"/><rect x="287.9" y="334.3" width="1.2" height="1.2"/><rect x="295.3" y="321.4" width="1.2" height="1.2"/><rect x="285.5" y="330.3" width="1.2" height="1.2"/><rect x="306.1" y="320.0" width="1.2" height="1.2"/><rect x="306.2" y="321.8" width="1.2" height="1.2"/><rect x="286.6" y="332.7" width="1.2" height="1.2"/><rect x="295.9" y="329.1" width="1.2" height="1.2"/><rect x="310.0" y="322.7" width="1.2" height="1.2"/><rect x="286.6" y="334.6" width="1.2" height="1.2"/><rect x="312.9" y="322.3" width="1.2" height="1.2"/><rect x="287.9" y="329.0" width="1.2" height="1.2"/><rect x="288.1" y="327.6" width="1.2" height="1.2"/><rect x="310.9" y="320.5" width="1.2" height="1.2"/><rect x="304.3" y="324.5" width="1.2" height="1.2"/><rect x="304.2" y="315.3" width="1.2" height="1.2"/><rect x="287.7" y="328.4" width="1.2" height="1.2"/><rect x="308.1" y="310.3" width="1.2" height="1.2"/><rect x="294.5" y="325.4" width="1.2" height="1.2"/><rect x="285.2" y="331.8" width="1.2" height="1.2"/><rect x="293.4" y="329.4" width="1.2" height="1.2"/><rect x="296.0" y="322.9" width="1.2" height="1.2"/><rect x="314.5" y="311.3" width="1.2" height="1.2"/><rect x="311.0" y="316.4" width="1.2" height="1.2"/><rect x="285.6" y="332.4" width="1.2" height="1.2"/><rect x="298.1" y="327.2" width="1.2" height="1.2"/><rect x="295.4" y="328.0" width="1.2" height="1.2"/><rect x="301.3" y="316.8" width="1.2" height="1.2"/><rect x="311.3" y="304.8" width="1.2" height="1.2"/><rect x="310.0" y="307.8" width="1.2" height="1.2"/><rect x="284.6" y="332.0" width="1.2" height="1.2"/><rect x="308.2" y="325.3" width="1.2" height="1.2"/><rect x="284.7" y="333.5" width="1.2" height="1.2"/><rect x="299.8" y="326.5" width="1.2" height="1.2"/><rect x="290.3" y="329.3" width="1.2" height="1.2"/><rect x="295.4" y="329.5" width="1.2" height="1.2"/><rect x="292.7" y="332.1" width="1.2" height="1.2"/><rect x="293.4" y="324.0" width="1.2" height="1.2"/><rect x="306.3" y="317.4" width="1.2" height="1.2"/><rect x="288.0" y="332.1" width="1.2" height="1.2"/><rect x="287.1" y="333.8" width="1.2" height="1.2"/><rect x="306.2" y="322.7" width="1.2" height="1.2"/><rect x="304.1" y="316.6" width="1.2" height="1.2"/><rect x="297.0" y="323.0" width="1.2" height="1.2"/><rect x="312.2" y="303.9" width="1.2" height="1.2"/><rect x="312.1" y="302.6" width="1.2" height="1.2"/><rect x="291.0" y="326.7" width="1.2" height="1.2"/><rect x="312.5" y="312.7" width="1.2" height="1.2"/><rect x="296.4" y="329.6" width="1.2" height="1.2"/><rect x="291.8" y="327.8" width="1.2" height="1.2"/><rect x="301.1" y="325.2" width="1.2" height="1.2"/><rect x="307.9" y="319.0" width="1.2" height="1.2"/><rect x="295.4" y="323.5" width="1.2" height="1.2"/><rect x="289.4" y="332.9" width="1.2" height="1.2"/><rect x="305.1" y="322.5" width="1.2" height="1.2"/><rect x="289.9" y="329.2" width="1.2" height="1.2"/><rect x="308.6" y="317.2" width="1.2" height="1.2"/><rect x="288.5" y="330.4" width="1.2" height="1.2"/><rect x="312.0" y="307.3" width="1.2" height="1.2"/><rect x="290.5" y="327.4" width="1.2" height="1.2"/><rect x="306.4" y="323.7" width="1.2" height="1.2"/><rect x="289.4" y="327.2" width="1.2" height="1.2"/><rect x="292.3" y="326.2" width="1.2" height="1.2"/><rect x="300.8" y="316.4" width="1.2" height="1.2"/><rect x="294.8" y="322.4" width="1.2" height="1.2"/><rect x="314.8" y="316.4" width="1.2" height="1.2"/><rect x="287.8" y="334.7" width="1.2" height="1.2"/><rect x="287.8" y="330.4" width="1.2" height="1.2"/><rect x="315.1" y="317.8" width="1.2" height="1.2"/><rect x="307.3" y="315.4" width="1.2" height="1.2"/></g>
<line x1="276.2" y1="24.2" x2="276.2" y2="341" stroke="#4a4a4a" stroke-width="1.1" stroke-dasharray="3.6 2.44"/>
<g fill="#9e001a"><circle cx="94.0" cy="23.3" r="1.05"/><circle cx="54.4" cy="164.4" r="1.05"/><circle cx="192.1" cy="186.2" r="1.05"/><circle cx="200.1" cy="188.0" r="1.05"/><circle cx="319.3" cy="183.8" r="1.05"/><circle cx="389.1" cy="208.1" r="1.05"/><circle cx="163.1" cy="218.1" r="1.05"/><circle cx="162.5" cy="223.5" r="1.05"/><circle cx="167.9" cy="226.2" r="1.05"/><circle cx="120.2" cy="232.9" r="1.05"/><circle cx="158.2" cy="237.0" r="1.05"/><circle cx="197.3" cy="238.0" r="1.05"/><circle cx="223.1" cy="243.2" r="1.05"/><circle cx="172.7" cy="247.9" r="1.05"/><circle cx="181.9" cy="255.6" r="1.05"/><circle cx="176.0" cy="259.2" r="1.05"/><circle cx="209.6" cy="256.9" r="1.05"/><circle cx="217.9" cy="266.0" r="1.05"/><circle cx="231.7" cy="262.7" r="1.05"/><circle cx="235.4" cy="265.8" r="1.05"/><circle cx="187.7" cy="266.5" r="1.05"/><circle cx="202.5" cy="266.2" r="1.05"/><circle cx="200.6" cy="269.8" r="1.05"/><circle cx="208.8" cy="269.8" r="1.05"/><circle cx="372.4" cy="237.7" r="1.05"/><circle cx="379.9" cy="239.2" r="1.05"/><circle cx="337.8" cy="243.4" r="1.05"/><circle cx="335.2" cy="252.7" r="1.05"/><circle cx="340.0" cy="256.2" r="1.05"/><circle cx="318.8" cy="256.9" r="1.05"/><circle cx="333.9" cy="257.6" r="1.05"/><circle cx="348.8" cy="258.1" r="1.05"/><circle cx="360.1" cy="259.9" r="1.05"/><circle cx="380.0" cy="262.2" r="1.05"/><circle cx="392.6" cy="266.0" r="1.05"/><circle cx="311.9" cy="262.6" r="1.05"/><circle cx="316.5" cy="261.8" r="1.05"/><circle cx="321.5" cy="267.7" r="1.05"/><circle cx="328.4" cy="265.8" r="1.05"/><circle cx="315.6" cy="269.7" r="1.05"/><circle cx="354.2" cy="265.8" r="1.05"/><circle cx="360.4" cy="267.4" r="1.05"/><circle cx="361.5" cy="269.2" r="1.05"/><circle cx="192.9" cy="275.8" r="1.05"/><circle cx="193.5" cy="278.7" r="1.05"/><circle cx="197.7" cy="275.8" r="1.05"/><circle cx="201.2" cy="273.5" r="1.05"/><circle cx="192.1" cy="281.5" r="1.05"/><circle cx="195.8" cy="281.5" r="1.05"/><circle cx="200.8" cy="282.9" r="1.05"/><circle cx="208.8" cy="280.6" r="1.05"/><circle cx="202.1" cy="287.3" r="1.05"/><circle cx="208.3" cy="288.5" r="1.05"/><circle cx="214.0" cy="285.8" r="1.05"/><circle cx="217.9" cy="286.3" r="1.05"/><circle cx="216.5" cy="288.7" r="1.05"/><circle cx="226.2" cy="286.9" r="1.05"/><circle cx="230.4" cy="286.5" r="1.05"/><circle cx="229.6" cy="281.9" r="1.05"/><circle cx="225.6" cy="289.8" r="1.05"/><circle cx="192.9" cy="290.8" r="1.05"/><circle cx="210.8" cy="294.0" r="1.05"/><circle cx="211.2" cy="297.1" r="1.05"/><circle cx="224.2" cy="298.1" r="1.05"/><circle cx="228.1" cy="298.1" r="1.05"/><circle cx="233.5" cy="298.8" r="1.05"/><circle cx="237.3" cy="298.8" r="1.05"/><circle cx="235.4" cy="301.2" r="1.05"/><circle cx="240.0" cy="300.2" r="1.05"/><circle cx="237.7" cy="291.7" r="1.05"/><circle cx="244.8" cy="284.4" r="1.05"/><circle cx="240.5" cy="275.8" r="1.05"/><circle cx="249.2" cy="296.0" r="1.05"/><circle cx="249.2" cy="297.9" r="1.05"/><circle cx="318.8" cy="275.4" r="1.05"/><circle cx="324.7" cy="273.4" r="1.05"/><circle cx="329.6" cy="275.4" r="1.05"/><circle cx="326.2" cy="277.4" r="1.05"/><circle cx="346.5" cy="275.4" r="1.05"/><circle cx="351.5" cy="275.1" r="1.05"/><circle cx="347.6" cy="278.9" r="1.05"/><circle cx="324.5" cy="280.8" r="1.05"/><circle cx="328.5" cy="281.2" r="1.05"/><circle cx="331.6" cy="283.1" r="1.05"/><circle cx="324.2" cy="283.4" r="1.05"/><circle cx="317.8" cy="285.4" r="1.05"/><circle cx="326.8" cy="285.4" r="1.05"/><circle cx="324.7" cy="287.7" r="1.05"/><circle cx="308.8" cy="287.2" r="1.05"/><circle cx="352.2" cy="283.5" r="1.05"/><circle cx="353.0" cy="282.8" r="1.05"/><circle cx="358.5" cy="280.3" r="1.05"/><circle cx="331.6" cy="289.2" r="1.05"/><circle cx="371.2" cy="281.5" r="1.05"/><circle cx="294.6" cy="302.8" r="1.05"/><circle cx="299.9" cy="301.3" r="1.05"/><circle cx="300.4" cy="302.8" r="1.05"/><circle cx="300.2" cy="294.0" r="1.05"/><circle cx="306.0" cy="299.4" r="1.05"/><circle cx="306.9" cy="297.5" r="1.05"/><circle cx="307.9" cy="294.0" r="1.05"/><circle cx="309.5" cy="301.8" r="1.05"/><circle cx="310.8" cy="300.8" r="1.05"/><circle cx="312.4" cy="299.9" r="1.05"/><circle cx="314.2" cy="291.2" r="1.05"/><circle cx="316.7" cy="297.5" r="1.05"/><circle cx="317.0" cy="302.5" r="1.05"/><circle cx="319.4" cy="300.2" r="1.05"/><circle cx="321.5" cy="302.3" r="1.05"/><circle cx="331.5" cy="289.8" r="1.05"/><circle cx="326.7" cy="295.0" r="1.05"/><circle cx="328.7" cy="295.0" r="1.05"/><circle cx="331.2" cy="293.1" r="1.05"/><circle cx="331.5" cy="295.0" r="1.05"/><circle cx="328.9" cy="301.0" r="1.05"/><circle cx="335.8" cy="297.2" r="1.05"/><circle cx="343.8" cy="300.4" r="1.05"/><circle cx="348.9" cy="291.2" r="1.05"/><circle cx="361.7" cy="294.0" r="1.05"/><circle cx="361.2" cy="295.5" r="1.05"/><circle cx="360.6" cy="299.2" r="1.05"/><circle cx="381.1" cy="299.2" r="1.05"/><circle cx="330.9" cy="295.8" r="1.05"/></g>
<line x1="327.5" y1="245.0" x2="335.2" y2="252.6" stroke="#1a1a1a" stroke-width="0.85"/>
<line x1="333.9" y1="258.5" x2="334.6" y2="270.6" stroke="#1a1a1a" stroke-width="0.85"/>
<text class="vl" x="85.0" y="30.95" font-size="5.3" fill="#1e1e1e" textLength="17.9" lengthAdjust="spacingAndGlyphs">CXCL12</text>
<text class="vl" x="57.0" y="161.35" font-size="5.3" fill="#1e1e1e" textLength="11.3" lengthAdjust="spacingAndGlyphs">MPO</text>
<text class="vl" x="176.2" y="183.35" font-size="5.3" fill="#1e1e1e" textLength="17.0" lengthAdjust="spacingAndGlyphs">FOXO4</text>
<text class="vl" x="202.2" y="195.25" font-size="5.3" fill="#1e1e1e" textLength="9.8" lengthAdjust="spacingAndGlyphs">LIFR</text>
<text class="vl" x="305.0" y="191.15" font-size="5.3" fill="#1e1e1e" textLength="12.7" lengthAdjust="spacingAndGlyphs">NOL7</text>
<text class="vl" x="390.4" y="205.45" font-size="5.3" fill="#1e1e1e" textLength="12.0" lengthAdjust="spacingAndGlyphs">FEN1</text>
<text class="vl" x="155.0" y="214.25" font-size="5.3" fill="#1e1e1e" textLength="21.2" lengthAdjust="spacingAndGlyphs">RASGRP2</text>
<text class="vl" x="146.2" y="224.25" font-size="5.3" fill="#1e1e1e" textLength="11.1" lengthAdjust="spacingAndGlyphs">LEPR</text>
<text class="vl" x="169.8" y="233.85" font-size="5.3" fill="#1e1e1e" textLength="12.9" lengthAdjust="spacingAndGlyphs">KITLG</text>
<text class="vl" x="105.2" y="240.65" font-size="5.3" fill="#1e1e1e" textLength="14.8" lengthAdjust="spacingAndGlyphs">GATA1</text>
<text class="vl" x="137.9" y="239.25" font-size="5.3" fill="#1e1e1e" textLength="15.4" lengthAdjust="spacingAndGlyphs">CEBPE</text>
<text class="vl" x="196.9" y="235.05" font-size="5.3" fill="#1e1e1e" textLength="15.2" lengthAdjust="spacingAndGlyphs">GATA2</text>
<text class="vl" x="219.8" y="240.25" font-size="5.3" fill="#1e1e1e" textLength="20.0" lengthAdjust="spacingAndGlyphs">CDKN1B</text>
<text class="vl" x="158.8" y="249.25" font-size="5.3" fill="#1e1e1e" textLength="10.0" lengthAdjust="spacingAndGlyphs">GHR</text>
<text class="vl" x="180.8" y="252.55" font-size="5.3" fill="#1e1e1e" textLength="18.8" lengthAdjust="spacingAndGlyphs">ANGPT1</text>
<text class="vl" x="162.7" y="266.55" font-size="5.3" fill="#1e1e1e" textLength="14.4" lengthAdjust="spacingAndGlyphs">CSF3R</text>
<text class="vl" x="209.6" y="263.65" font-size="5.3" fill="#1e1e1e" textLength="14.4" lengthAdjust="spacingAndGlyphs">MYCN</text>
<text class="vl" x="231.5" y="270.15" font-size="5.3" fill="#1e1e1e" textLength="17.0" lengthAdjust="spacingAndGlyphs">CCND3</text>
<text class="vl" x="361.2" y="234.25" font-size="5.3" fill="#1e1e1e" textLength="13.0" lengthAdjust="spacingAndGlyphs">CDC6</text>
<text class="vl" x="379.0" y="246.85" font-size="5.3" fill="#1e1e1e" textLength="15.3" lengthAdjust="spacingAndGlyphs">CHEK1</text>
<text class="vl" x="340.8" y="238.95" font-size="5.3" fill="#1e1e1e" textLength="12.8" lengthAdjust="spacingAndGlyphs">CDK4</text>
<text class="vl" x="316.1" y="244.05" font-size="5.3" fill="#1e1e1e" textLength="17.2" lengthAdjust="spacingAndGlyphs">PTPN11</text>
<text class="vl" x="341.9" y="252.95" font-size="5.3" fill="#1e1e1e" textLength="13.9" lengthAdjust="spacingAndGlyphs">HELLS</text>
<text class="vl" x="300.8" y="253.85" font-size="5.3" fill="#1e1e1e" textLength="18.2" lengthAdjust="spacingAndGlyphs">GTF2H3</text>
<text class="vl" x="364.2" y="257.95" font-size="5.3" fill="#1e1e1e" textLength="16.8" lengthAdjust="spacingAndGlyphs">CCNA2</text>
<text class="vl" x="383.2" y="269.75" font-size="5.3" fill="#1e1e1e" textLength="16.0" lengthAdjust="spacingAndGlyphs">STMN1</text>
<text class="vl" x="320.8" y="264.95" font-size="5.3" fill="#1e1e1e" textLength="9.8" lengthAdjust="spacingAndGlyphs">AGK</text>
<text class="vl" x="340.8" y="265.85" font-size="5.3" fill="#1e1e1e" textLength="15.0" lengthAdjust="spacingAndGlyphs">BRCA2</text>
<text class="vl" x="291.6" y="269.55" font-size="5.3" fill="#1e1e1e" textLength="19.0" lengthAdjust="spacingAndGlyphs">MAP3K8</text>
<text class="vl" x="324.8" y="275.95" font-size="5.3" fill="#1e1e1e" textLength="20.0" lengthAdjust="spacingAndGlyphs">SUV39H2</text>
<rect x="44.6" y="22.0" width="463.6" height="319.3" fill="none" stroke="#0d0d0d" stroke-width="1.4"/>
<line x1="40.8" y1="340.20" x2="44.6" y2="340.20" stroke="#333333" stroke-width="1.1"/>
<text class="tk" x="37.4" y="342.30" font-size="7.6" fill="#303030" text-anchor="end">0</text>
<line x1="40.8" y1="265.90" x2="44.6" y2="265.90" stroke="#333333" stroke-width="1.1"/>
<text class="tk" x="37.4" y="268.00" font-size="7.6" fill="#303030" text-anchor="end">5</text>
<line x1="40.8" y1="191.60" x2="44.6" y2="191.60" stroke="#333333" stroke-width="1.1"/>
<text class="tk" x="37.4" y="193.70" font-size="7.6" fill="#303030" text-anchor="end">10</text>
<line x1="40.8" y1="117.30" x2="44.6" y2="117.30" stroke="#333333" stroke-width="1.1"/>
<text class="tk" x="37.4" y="119.40" font-size="7.6" fill="#303030" text-anchor="end">15</text>
<line x1="40.8" y1="43.00" x2="44.6" y2="43.00" stroke="#333333" stroke-width="1.1"/>
<text class="tk" x="37.4" y="45.10" font-size="7.6" fill="#303030" text-anchor="end">20</text>
<line x1="45.20" y1="341.3" x2="45.20" y2="344.7" stroke="#333333" stroke-width="1.1"/>
<text class="tk" x="45.20" y="354.8" font-size="7.6" fill="#303030" text-anchor="middle">−5.0</text>
<line x1="160.70" y1="341.3" x2="160.70" y2="344.7" stroke="#333333" stroke-width="1.1"/>
<text class="tk" x="160.70" y="354.8" font-size="7.6" fill="#303030" text-anchor="middle">−2.5</text>
<line x1="276.20" y1="341.3" x2="276.20" y2="344.7" stroke="#333333" stroke-width="1.1"/>
<text class="tk" x="276.20" y="354.8" font-size="7.6" fill="#303030" text-anchor="middle">0.0</text>
<line x1="391.70" y1="341.3" x2="391.70" y2="344.7" stroke="#333333" stroke-width="1.1"/>
<text class="tk" x="391.70" y="354.8" font-size="7.6" fill="#303030" text-anchor="middle">2.5</text>
<line x1="507.20" y1="341.3" x2="507.20" y2="344.7" stroke="#333333" stroke-width="1.1"/>
<text class="tk" x="507.20" y="354.8" font-size="7.6" fill="#303030" text-anchor="middle">5.0</text>
<text class="ti" x="214.8" y="367.6" font-size="9.1" fill="#1a1a1a" textLength="122.8" lengthAdjust="spacingAndGlyphs">Log2 fold change in gene expression</text>
<text class="ti" transform="translate(23.6 181.4) rotate(-90)" x="0" y="0" font-size="9.1" fill="#1a1a1a" text-anchor="middle" textLength="57.7" lengthAdjust="spacingAndGlyphs">−Log10 p−value</text>
<text x="7.7" y="18.9" font-size="14.2" font-weight="bold" fill="#000">A</text>
<line x1="348.6" y1="404.0" x2="348.6" y2="721" stroke="#505050" stroke-width="1.0" stroke-dasharray="3.6 2.44"/>
<line x1="385.5" y1="407.00" x2="411.8" y2="407.00" stroke="#3e3e3e" stroke-width="1.25"/>
<rect x="396.55" y="404.85" width="4.5" height="4.3" rx="0.6" fill="#24664a"/>
<line x1="185.6" y1="407.00" x2="189.4" y2="407.00" stroke="#333333" stroke-width="1.1"/>
<text class="pl" x="101.45" y="409.05" font-size="7.1" fill="#303030" textLength="80.75" lengthAdjust="spacingAndGlyphs">DDR (CUSTOM + PANC)</text>
<line x1="411.3" y1="415.59" x2="460.0" y2="415.59" stroke="#3e3e3e" stroke-width="1.25"/>
<rect x="433.35" y="413.44" width="4.5" height="4.3" rx="0.6" fill="#24664a"/>
<line x1="185.6" y1="415.59" x2="189.4" y2="415.59" stroke="#333333" stroke-width="1.1"/>
<text class="pl" x="73.25" y="417.64" font-size="7.1" fill="#303030" textLength="108.95" lengthAdjust="spacingAndGlyphs">BASE_EXCISION_REPAIR (KEGG)</text>
<line x1="374.6" y1="424.18" x2="431.8" y2="424.18" stroke="#3e3e3e" stroke-width="1.25"/>
<rect x="400.75" y="422.03" width="4.5" height="4.3" rx="0.6" fill="#24664a"/>
<line x1="185.6" y1="424.18" x2="189.4" y2="424.18" stroke="#333333" stroke-width="1.1"/>
<text class="pl" x="45.85" y="426.23" font-size="7.1" fill="#303030" textLength="136.35" lengthAdjust="spacingAndGlyphs">NUCLEOTIDE_EXCISION_REPAIR (KEGG)</text>
<line x1="383.2" y1="432.78" x2="454.8" y2="432.78" stroke="#3e3e3e" stroke-width="1.25"/>
<rect x="416.95" y="430.63" width="4.5" height="4.3" rx="0.6" fill="#24664a"/>
<line x1="185.6" y1="432.78" x2="189.4" y2="432.78" stroke="#333333" stroke-width="1.1"/>
<text class="pl" x="90.55" y="434.83" font-size="7.1" fill="#303030" textLength="91.65" lengthAdjust="spacingAndGlyphs">MISMATCH_REPAIR (KEGG)</text>
<line x1="317.6" y1="441.37" x2="342.3" y2="441.37" stroke="#3e3e3e" stroke-width="1.25"/>
<rect x="327.85" y="439.22" width="4.5" height="4.3" rx="0.6" fill="#b8701c"/>
<line x1="185.6" y1="441.37" x2="189.4" y2="441.37" stroke="#333333" stroke-width="1.1"/>
<text class="pl" x="94.35" y="443.42" font-size="7.1" fill="#303030" textLength="87.85" lengthAdjust="spacingAndGlyphs">JAK_STAT (KEGG + PANC)</text>
<line x1="352.7" y1="449.96" x2="373.5" y2="449.96" stroke="#3e3e3e" stroke-width="1.25"/>
<rect x="360.85" y="447.81" width="4.5" height="4.3" rx="0.6" fill="#b8701c"/>
<line x1="185.6" y1="449.96" x2="189.4" y2="449.96" stroke="#333333" stroke-width="1.1"/>
<text class="pl" x="21.65" y="452.01" font-size="7.1" fill="#303030" textLength="160.55" lengthAdjust="spacingAndGlyphs">CELL_CYCLE_AND_APOPTOSIS (KEGG + PANC)</text>
<line x1="367.2" y1="458.55" x2="448.5" y2="458.55" stroke="#3e3e3e" stroke-width="1.25"/>
<rect x="405.85" y="456.40" width="4.5" height="4.3" rx="0.6" fill="#b8701c"/>
<line x1="185.6" y1="458.55" x2="189.4" y2="458.55" stroke="#333333" stroke-width="1.1"/>
<text class="pl" x="37.25" y="460.60" font-size="7.1" fill="#303030" textLength="144.95" lengthAdjust="spacingAndGlyphs">HOMOLOGOUS_RECOMBINATION (KEGG)</text>
<line x1="351.5" y1="467.14" x2="383.9" y2="467.14" stroke="#3e3e3e" stroke-width="1.25"/>
<rect x="365.45" y="464.99" width="4.5" height="4.3" rx="0.6" fill="#b8701c"/>
<line x1="185.6" y1="467.14" x2="189.4" y2="467.14" stroke="#333333" stroke-width="1.1"/>
<text class="pl" x="103.05" y="469.19" font-size="7.1" fill="#303030" textLength="79.15" lengthAdjust="spacingAndGlyphs">CLL DRIVERS (LANDAU)</text>
<line x1="351.1" y1="475.74" x2="381.5" y2="475.74" stroke="#3e3e3e" stroke-width="1.25"/>
<rect x="363.85" y="473.59" width="4.5" height="4.3" rx="0.6" fill="#b8701c"/>
<line x1="185.6" y1="475.74" x2="189.4" y2="475.74" stroke="#333333" stroke-width="1.1"/>
<text class="pl" x="79.95" y="477.79" font-size="7.1" fill="#303030" textLength="102.25" lengthAdjust="spacingAndGlyphs">TOLL_LIKE_RECEPTOR (KEGG)</text>
<line x1="348.1" y1="484.33" x2="373.5" y2="484.33" stroke="#3e3e3e" stroke-width="1.25"/>
<rect x="358.75" y="482.18" width="4.5" height="4.3" rx="0.6" fill="#22458a"/>
<line x1="185.6" y1="484.33" x2="189.4" y2="484.33" stroke="#333333" stroke-width="1.1"/>
<text class="pl" x="137.25" y="486.38" font-size="7.1" fill="#303030" textLength="44.95" lengthAdjust="spacingAndGlyphs">VEGF (KEGG)</text>
<line x1="331.2" y1="492.92" x2="348.1" y2="492.92" stroke="#3e3e3e" stroke-width="1.25"/>
<rect x="337.75" y="490.77" width="4.5" height="4.3" rx="0.6" fill="#22458a"/>
<line x1="185.6" y1="492.92" x2="189.4" y2="492.92" stroke="#333333" stroke-width="1.1"/>
<text class="pl" x="142.65" y="494.97" font-size="7.1" fill="#303030" textLength="39.55" lengthAdjust="spacingAndGlyphs">RAS (PANC)</text>
<line x1="344.2" y1="501.51" x2="502.7" y2="501.51" stroke="#3e3e3e" stroke-width="1.25"/>
<rect x="421.05" y="499.36" width="4.5" height="4.3" rx="0.6" fill="#22458a"/>
<line x1="185.6" y1="501.51" x2="189.4" y2="501.51" stroke="#333333" stroke-width="1.1"/>
<text class="pl" x="28.05" y="503.56" font-size="7.1" fill="#303030" textLength="154.15" lengthAdjust="spacingAndGlyphs">NON_HOMOLOGOUS_END_JOINING (KEGG)</text>
<line x1="346.9" y1="510.10" x2="372.3" y2="510.10" stroke="#3e3e3e" stroke-width="1.25"/>
<rect x="357.35" y="507.95" width="4.5" height="4.3" rx="0.6" fill="#22458a"/>
<line x1="185.6" y1="510.10" x2="189.4" y2="510.10" stroke="#333333" stroke-width="1.1"/>
<text class="pl" x="90.55" y="512.15" font-size="7.1" fill="#303030" textLength="91.65" lengthAdjust="spacingAndGlyphs">B_CELL_RECEPTOR (KEGG)</text>
<line x1="346.9" y1="518.70" x2="374.2" y2="518.70" stroke="#3e3e3e" stroke-width="1.25"/>
<rect x="358.55" y="516.55" width="4.5" height="4.3" rx="0.6" fill="#22458a"/>
<line x1="185.6" y1="518.70" x2="189.4" y2="518.70" stroke="#333333" stroke-width="1.1"/>
<text class="pl" x="103.25" y="520.75" font-size="7.1" fill="#303030" textLength="78.95" lengthAdjust="spacingAndGlyphs">FC_EPSILON_RI (KEGG)</text>
<line x1="328.0" y1="527.29" x2="349.7" y2="527.29" stroke="#3e3e3e" stroke-width="1.25"/>
<rect x="336.55" y="525.14" width="4.5" height="4.3" rx="0.6" fill="#22458a"/>
<line x1="185.6" y1="527.29" x2="189.4" y2="527.29" stroke="#333333" stroke-width="1.1"/>
<text class="pl" x="42.45" y="529.34" font-size="7.1" fill="#303030" textLength="139.75" lengthAdjust="spacingAndGlyphs">TRANSCRIPTIONAL_REGULATION (PANC)</text>
<line x1="346.9" y1="535.88" x2="375.8" y2="535.88" stroke="#3e3e3e" stroke-width="1.25"/>
<rect x="358.95" y="533.73" width="4.5" height="4.3" rx="0.6" fill="#22458a"/>
<line x1="185.6" y1="535.88" x2="189.4" y2="535.88" stroke="#333333" stroke-width="1.1"/>
<text class="pl" x="91.45" y="537.93" font-size="7.1" fill="#303030" textLength="90.75" lengthAdjust="spacingAndGlyphs">T_CELL_RECEPTOR (KEGG)</text>
<line x1="343.8" y1="544.47" x2="386.5" y2="544.47" stroke="#3e3e3e" stroke-width="1.25"/>
<rect x="362.75" y="542.32" width="4.5" height="4.3" rx="0.6" fill="#cc0a7c"/>
<line x1="185.6" y1="544.47" x2="189.4" y2="544.47" stroke="#333333" stroke-width="1.1"/>
<text class="pl" x="143.55" y="546.52" font-size="7.1" fill="#303030" textLength="38.65" lengthAdjust="spacingAndGlyphs">P53 (KEGG)</text>
<line x1="322.4" y1="553.06" x2="351.9" y2="553.06" stroke="#3e3e3e" stroke-width="1.25"/>
<rect x="334.65" y="550.91" width="4.5" height="4.3" rx="0.6" fill="#cc0a7c"/>
<line x1="185.6" y1="553.06" x2="189.4" y2="553.06" stroke="#333333" stroke-width="1.1"/>
<text class="pl" x="92.85" y="555.11" font-size="7.1" fill="#303030" textLength="89.35" lengthAdjust="spacingAndGlyphs">TGF_BETA (KEGG + PANC)</text>
<line x1="335.8" y1="561.66" x2="350.3" y2="561.66" stroke="#3e3e3e" stroke-width="1.25"/>
<rect x="340.45" y="559.51" width="4.5" height="4.3" rx="0.6" fill="#cc0a7c"/>
<line x1="185.6" y1="561.66" x2="189.4" y2="561.66" stroke="#333333" stroke-width="1.1"/>
<text class="pl" x="141.65" y="563.71" font-size="7.1" fill="#303030" textLength="40.55" lengthAdjust="spacingAndGlyphs">PI3K (PANC)</text>
<line x1="344.3" y1="570.25" x2="370.4" y2="570.25" stroke="#3e3e3e" stroke-width="1.25"/>
<rect x="354.75" y="568.10" width="4.5" height="4.3" rx="0.6" fill="#cc0a7c"/>
<line x1="185.6" y1="570.25" x2="189.4" y2="570.25" stroke="#333333" stroke-width="1.1"/>
<text class="pl" x="138.35" y="572.30" font-size="7.1" fill="#303030" textLength="43.85" lengthAdjust="spacingAndGlyphs">ERBB (KEGG)</text>
<line x1="327.2" y1="578.84" x2="353.8" y2="578.84" stroke="#3e3e3e" stroke-width="1.25"/>
<rect x="338.15" y="576.69" width="4.5" height="4.3" rx="0.6" fill="#cc0a7c"/>
<line x1="185.6" y1="578.84" x2="189.4" y2="578.84" stroke="#333333" stroke-width="1.1"/>
<text class="pl" x="123.35" y="580.89" font-size="7.1" fill="#303030" textLength="58.85" lengthAdjust="spacingAndGlyphs">CALCIUM (KEGG)</text>
<line x1="340.4" y1="587.43" x2="380.8" y2="587.43" stroke="#3e3e3e" stroke-width="1.25"/>
<rect x="358.25" y="585.28" width="4.5" height="4.3" rx="0.6" fill="#cc0a7c"/>
<line x1="185.6" y1="587.43" x2="189.4" y2="587.43" stroke="#333333" stroke-width="1.1"/>
<text class="pl" x="101.15" y="589.48" font-size="7.1" fill="#303030" textLength="81.05" lengthAdjust="spacingAndGlyphs">HOUSEKEEPING (PANC)</text>
<line x1="337.6" y1="596.02" x2="388.9" y2="596.02" stroke="#3e3e3e" stroke-width="1.25"/>
<rect x="360.75" y="593.87" width="4.5" height="4.3" rx="0.6" fill="#cc0a7c"/>
<line x1="185.6" y1="596.02" x2="189.4" y2="596.02" stroke="#333333" stroke-width="1.1"/>
<text class="pl" x="80.35" y="598.07" font-size="7.1" fill="#303030" textLength="101.85" lengthAdjust="spacingAndGlyphs">NOD_LIKE_RECEPTOR (KEGG)</text>
<line x1="313.4" y1="604.62" x2="358.4" y2="604.62" stroke="#3e3e3e" stroke-width="1.25"/>
<rect x="333.55" y="602.47" width="4.5" height="4.3" rx="0.6" fill="#cc0a7c"/>
<line x1="185.6" y1="604.62" x2="189.4" y2="604.62" stroke="#333333" stroke-width="1.1"/>
<text class="pl" x="101.35" y="606.67" font-size="7.1" fill="#303030" textLength="80.85" lengthAdjust="spacingAndGlyphs">NOTCH (KEGG + PANC)</text>
<line x1="342.2" y1="613.21" x2="370.4" y2="613.21" stroke="#3e3e3e" stroke-width="1.25"/>
<rect x="354.05" y="611.06" width="4.5" height="4.3" rx="0.6" fill="#cc0a7c"/>
<line x1="185.6" y1="613.21" x2="189.4" y2="613.21" stroke="#333333" stroke-width="1.1"/>
<text class="pl" x="98.45" y="615.26" font-size="7.1" fill="#303030" textLength="83.75" lengthAdjust="spacingAndGlyphs">NEUROTROPHIN (KEGG)</text>
<line x1="326.1" y1="621.80" x2="357.2" y2="621.80" stroke="#3e3e3e" stroke-width="1.25"/>
<rect x="339.25" y="619.65" width="4.5" height="4.3" rx="0.6" fill="#cc0a7c"/>
<line x1="185.6" y1="621.80" x2="189.4" y2="621.80" stroke="#333333" stroke-width="1.1"/>
<text class="pl" x="134.55" y="623.85" font-size="7.1" fill="#303030" textLength="47.65" lengthAdjust="spacingAndGlyphs">MTOR (KEGG)</text>
<line x1="339.7" y1="630.39" x2="369.9" y2="630.39" stroke="#3e3e3e" stroke-width="1.25"/>
<rect x="352.45" y="628.24" width="4.5" height="4.3" rx="0.6" fill="#cc0a7c"/>
<line x1="185.6" y1="630.39" x2="189.4" y2="630.39" stroke="#333333" stroke-width="1.1"/>
<text class="pl" x="134.95" y="632.44" font-size="7.1" fill="#303030" textLength="47.25" lengthAdjust="spacingAndGlyphs">GNRH (KEGG)</text>
<line x1="211.5" y1="638.98" x2="439.0" y2="638.98" stroke="#3e3e3e" stroke-width="1.25"/>
<rect x="322.65" y="636.83" width="4.5" height="4.3" rx="0.6" fill="#cc0a7c"/>
<line x1="185.6" y1="638.98" x2="189.4" y2="638.98" stroke="#333333" stroke-width="1.1"/>
<text class="pl" x="138.35" y="641.03" font-size="7.1" fill="#303030" textLength="43.85" lengthAdjust="spacingAndGlyphs">PPAR (KEGG)</text>
<line x1="328.2" y1="647.58" x2="390.7" y2="647.58" stroke="#3e3e3e" stroke-width="1.25"/>
<rect x="357.05" y="645.43" width="4.5" height="4.3" rx="0.6" fill="#cc0a7c"/>
<line x1="185.6" y1="647.58" x2="189.4" y2="647.58" stroke="#333333" stroke-width="1.1"/>
<text class="pl" x="52.05" y="649.63" font-size="7.1" fill="#303030" textLength="130.15" lengthAdjust="spacingAndGlyphs">CHROMATINE_MODIFICATION (PANC)</text>
<line x1="331.2" y1="656.17" x2="381.9" y2="656.17" stroke="#3e3e3e" stroke-width="1.25"/>
<rect x="354.25" y="654.02" width="4.5" height="4.3" rx="0.6" fill="#cc0a7c"/>
<line x1="185.6" y1="656.17" x2="189.4" y2="656.17" stroke="#333333" stroke-width="1.1"/>
<text class="pl" x="79.95" y="658.22" font-size="7.1" fill="#303030" textLength="102.25" lengthAdjust="spacingAndGlyphs">RIG_I_LIKE_RECEPTOR (KEGG)</text>
<line x1="339.9" y1="664.76" x2="365.1" y2="664.76" stroke="#3e3e3e" stroke-width="1.25"/>
<rect x="350.15" y="662.61" width="4.5" height="4.3" rx="0.6" fill="#cc0a7c"/>
<line x1="185.6" y1="664.76" x2="189.4" y2="664.76" stroke="#333333" stroke-width="1.1"/>
<text class="pl" x="128.25" y="666.81" font-size="7.1" fill="#303030" textLength="53.95" lengthAdjust="spacingAndGlyphs">INSULIN (KEGG)</text>
<line x1="331.2" y1="673.35" x2="378.0" y2="673.35" stroke="#3e3e3e" stroke-width="1.25"/>
<rect x="352.45" y="671.20" width="4.5" height="4.3" rx="0.6" fill="#cc0a7c"/>
<line x1="185.6" y1="673.35" x2="189.4" y2="673.35" stroke="#333333" stroke-width="1.1"/>
<text class="pl" x="97.55" y="675.40" font-size="7.1" fill="#303030" textLength="84.65" lengthAdjust="spacingAndGlyphs">ADIPOCYTOKINE (KEGG)</text>
<line x1="335.1" y1="681.94" x2="368.8" y2="681.94" stroke="#3e3e3e" stroke-width="1.25"/>
<rect x="349.65" y="679.79" width="4.5" height="4.3" rx="0.6" fill="#cc0a7c"/>
<line x1="185.6" y1="681.94" x2="189.4" y2="681.94" stroke="#333333" stroke-width="1.1"/>
<text class="pl" x="112.05" y="683.99" font-size="7.1" fill="#303030" textLength="70.15" lengthAdjust="spacingAndGlyphs">CHEMOKINE (KEGG)</text>
<line x1="334.2" y1="690.54" x2="358.2" y2="690.54" stroke="#3e3e3e" stroke-width="1.25"/>
<rect x="343.95" y="688.39" width="4.5" height="4.3" rx="0.6" fill="#cc0a7c"/>
<line x1="185.6" y1="690.54" x2="189.4" y2="690.54" stroke="#333333" stroke-width="1.1"/>
<text class="pl" x="110.55" y="692.59" font-size="7.1" fill="#303030" textLength="71.65" lengthAdjust="spacingAndGlyphs">WNT (KEGG + PANC)</text>
<line x1="337.4" y1="699.13" x2="357.0" y2="699.13" stroke="#3e3e3e" stroke-width="1.25"/>
<rect x="344.85" y="696.98" width="4.5" height="4.3" rx="0.6" fill="#cc0a7c"/>
<line x1="185.6" y1="699.13" x2="189.4" y2="699.13" stroke="#333333" stroke-width="1.1"/>
<text class="pl" x="127.25" y="701.18" font-size="7.1" fill="#303030" textLength="54.95" lengthAdjust="spacingAndGlyphs">DRIVERS (PANC)</text>
<line x1="331.2" y1="707.72" x2="366.9" y2="707.72" stroke="#3e3e3e" stroke-width="1.25"/>
<rect x="346.65" y="705.57" width="4.5" height="4.3" rx="0.6" fill="#cc0a7c"/>
<line x1="185.6" y1="707.72" x2="189.4" y2="707.72" stroke="#333333" stroke-width="1.1"/>
<text class="pl" x="85.75" y="709.77" font-size="7.1" fill="#303030" textLength="96.45" lengthAdjust="spacingAndGlyphs">HEDGEHOG (KEGG + PANC)</text>
<line x1="341.1" y1="716.31" x2="355.8" y2="716.31" stroke="#3e3e3e" stroke-width="1.25"/>
<rect x="345.75" y="714.16" width="4.5" height="4.3" rx="0.6" fill="#cc0a7c"/>
<line x1="185.6" y1="716.31" x2="189.4" y2="716.31" stroke="#333333" stroke-width="1.1"/>
<text class="pl" x="107.25" y="718.36" font-size="7.1" fill="#303030" textLength="74.95" lengthAdjust="spacingAndGlyphs">MAPK (KEGG + PANC)</text>
<rect x="189.4" y="402.0" width="318.6" height="319.3" fill="none" stroke="#0d0d0d" stroke-width="1.4"/>
<line x1="189.42" y1="721.3" x2="189.42" y2="724.7" stroke="#333333" stroke-width="1.1"/>
<text class="tk" x="189.42" y="734.4" font-size="7.9" fill="#303030" text-anchor="middle">−6</text>
<line x1="269.01" y1="721.3" x2="269.01" y2="724.7" stroke="#333333" stroke-width="1.1"/>
<text class="tk" x="269.01" y="734.4" font-size="7.9" fill="#303030" text-anchor="middle">−3</text>
<line x1="348.60" y1="721.3" x2="348.60" y2="724.7" stroke="#333333" stroke-width="1.1"/>
<text class="tk" x="348.60" y="734.4" font-size="7.9" fill="#303030" text-anchor="middle">0</text>
<line x1="428.19" y1="721.3" x2="428.19" y2="724.7" stroke="#333333" stroke-width="1.1"/>
<text class="tk" x="428.19" y="734.4" font-size="7.9" fill="#303030" text-anchor="middle">3</text>
<line x1="507.78" y1="721.3" x2="507.78" y2="724.7" stroke="#333333" stroke-width="1.1"/>
<text class="tk" x="507.78" y="734.4" font-size="7.9" fill="#303030" text-anchor="middle">6</text>
<text class="ti" x="254.2" y="747.7" font-size="9.1" fill="#1a1a1a" textLength="188.8" lengthAdjust="spacingAndGlyphs">Avg. log2 fold change in gene expression (standardised)</text>
<text class="ti" transform="translate(16.0 561.1) rotate(-90)" x="0" y="0" font-size="9.1" fill="#1a1a1a" text-anchor="middle" textLength="27.7" lengthAdjust="spacingAndGlyphs">Pathway</text>
<text x="8.5" y="398.5" font-size="13.6" font-weight="bold" fill="#000">B</text>
<text x="218.1" y="422.6" font-size="7.0" font-weight="bold" fill="#111">FDR</text>
<line x1="225.2" y1="428.10" x2="225.2" y2="439.00" stroke="#444" stroke-width="1.1"/>
<rect x="222.95" y="431.45" width="4.3" height="4.15" rx="0.6" fill="#24664a"/>
<text class="lg" x="231.0" y="435.65" font-size="7.0" fill="#333" textLength="31.7" lengthAdjust="spacingAndGlyphs">FDR &lt; 1%</text>
<line x1="225.2" y1="442.50" x2="225.2" y2="453.40" stroke="#444" stroke-width="1.1"/>
<rect x="222.95" y="445.85" width="4.3" height="4.15" rx="0.6" fill="#b8701c"/>
<text class="lg" x="231.0" y="450.05" font-size="7.0" fill="#333" textLength="50.7" lengthAdjust="spacingAndGlyphs">1% &lt; FDR &lt; 5%</text>
<line x1="225.2" y1="456.90" x2="225.2" y2="467.80" stroke="#444" stroke-width="1.1"/>
<rect x="222.95" y="460.25" width="4.3" height="4.15" rx="0.6" fill="#22458a"/>
<text class="lg" x="231.0" y="464.45" font-size="7.0" fill="#333" textLength="55.1" lengthAdjust="spacingAndGlyphs">5% &lt; FDR &lt; 10%</text>
<line x1="225.2" y1="471.30" x2="225.2" y2="482.20" stroke="#444" stroke-width="1.1"/>
<rect x="222.95" y="474.65" width="4.3" height="4.15" rx="0.6" fill="#cc0a7c"/>
<text class="lg" x="231.0" y="478.85" font-size="7.0" fill="#333" textLength="36.0" lengthAdjust="spacingAndGlyphs">FDR &gt; 10%</text>
<rect x="0.5" y="0.5" width="519" height="757" fill="none" stroke="#000" stroke-width="1"/>
</svg>
</body></html>
